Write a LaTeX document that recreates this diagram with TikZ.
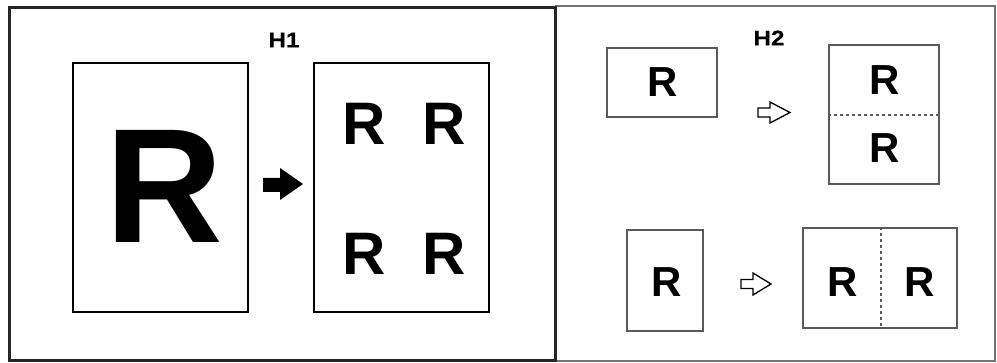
\documentclass[tikz,border=0pt]{standalone}
\usepackage{fontspec}
\setmainfont{Liberation Sans}
\newfontfamily\widesans{Liberation Sans}[FakeStretch=1.15,FakeBold=0.6]
\begin{document}
\begin{tikzpicture}[x=1pt,y=-1pt,
  page/.style={draw=black,line width=2pt,minimum width=#1,inner sep=0pt},
  sheet/.style={draw=black!65,line width=1.3pt,inner sep=0pt},
  lbl/.style={inner sep=0pt,font=\widesans\bfseries\fontsize{21}{21}\selectfont},
  rr/.style={inner sep=0pt,font=\bfseries\fontsize{#1}{#1}\selectfont},
  hollow/.style={draw=black,line width=1.3pt,fill=white,line join=miter}]
\useasboundingbox (0,0) rectangle (997,363);
% panels
\draw[black!55,line width=1.2pt] (555,6) -- (995,6) -- (995,361) -- (555,361);
\draw[black!85,line width=3pt] (9,8) rectangle (555,361);
\node[lbl] (h1) at (284,40) {H1};
\node[lbl] (h2) at (769,38) {H2};
% H1
\node[page=175pt,minimum height=249pt] (src) at (160.5,187.5) {};
\node[page=175pt,minimum height=249pt] (dst) at (401.5,187.5) {};
\node[rr=163] (bigR) at (164,186.5) {R};
\node[rr=60] (r1) at (364,124) {R};
\node[rr=60] (r2) at (444.5,124) {R};
\node[rr=60] (r3) at (364,253.5) {R};
\node[rr=60] (r4) at (444.5,253.5) {R};
\fill[black] (263,178) -- (280,178) -- (280,168) -- (303,184) -- (280,200) -- (280,192) -- (263,192) -- cycle;
% H2 top
\node[sheet,minimum width=110pt,minimum height=69pt] (a1) at (662,82.5) {};
\node[rr=42] (ra1) at (663,82) {R};
\draw[hollow] (758,108) -- (770,108) -- (770,102) -- (790,112.5) -- (770,123) -- (770,117) -- (758,117) -- cycle;
\node[sheet,minimum width=110pt,minimum height=139pt] (b1) at (884,114.5) {};
\draw[black!65,line width=1.3pt,dash pattern=on 3pt off 3pt] (b1.west |- 0,115) -- (b1.east |- 0,115);
\node[rr=42] (rb1) at (885,80) {R};
\node[rr=42] (rb2) at (885,148) {R};
% H2 bottom
\node[sheet,minimum width=76pt,minimum height=101pt] (a2) at (665,280.5) {};
\node[rr=42] (ra2) at (667,282) {R};
\draw[hollow] (741,279.5) -- (753,279.5) -- (753,273) -- (771,284) -- (753,295) -- (753,288.5) -- (741,288.5) -- cycle;
\node[sheet,minimum width=154pt,minimum height=100pt] (b2) at (880,278) {};
\draw[black!65,line width=1.3pt,dash pattern=on 3pt off 3pt] (b2.north -| 881,0) -- (b2.south -| 881,0);
\node[rr=42] (rb3) at (843,282) {R};
\node[rr=42] (rb4) at (920,282) {R};
\end{tikzpicture}
\end{document}
